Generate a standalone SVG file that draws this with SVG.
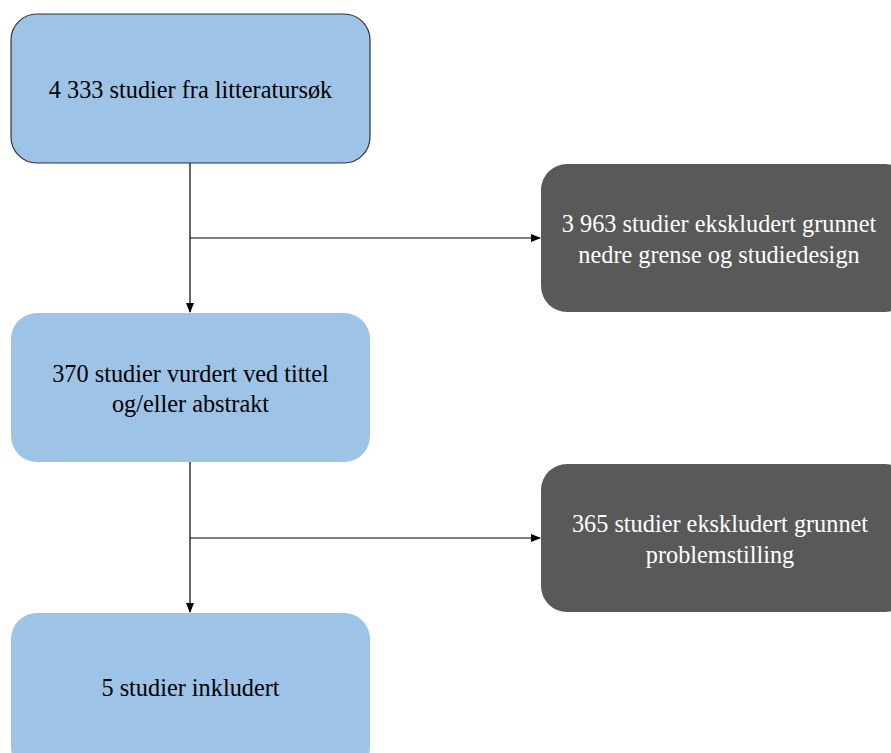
<svg xmlns="http://www.w3.org/2000/svg" width="891" height="753" viewBox="0 0 891 753">
<style>
.blue{fill:#9dc3e6;}
.dark{fill:#595959;}
.t{font-family:"Liberation Serif","Times New Roman",serif;font-size:24.3px;text-anchor:middle;}
.tb{fill:#000;}
.tw{fill:#fff;}
.c{stroke:#000;stroke-width:1.2;fill:none;}
</style>
<defs>
<marker id="ah" markerWidth="10" markerHeight="10" refX="9" refY="5" orient="auto" markerUnits="userSpaceOnUse">
<path d="M0,1 L10,5 L0,9 Z" fill="#000"/>
</marker>
</defs>
<rect width="891" height="753" fill="#fff"/>
<g id="n1">
<rect x="11" y="14" width="359" height="149" rx="26" class="blue" stroke="#333" stroke-width="1.2"/>
<text x="190.5" y="98" class="t tb">4 333 studier fra litteratursøk</text>
</g>
<g id="n2">
<rect x="541" y="164" width="370" height="148" rx="26" class="dark"/>
<text x="719" y="232" class="t tw">3 963 studier ekskludert grunnet</text>
<text x="719" y="263" class="t tw">nedre grense og studiedesign</text>
</g>
<g id="n3">
<rect x="11" y="313" width="359" height="149" rx="26" class="blue"/>
<text x="190.5" y="381.5" class="t tb">370 studier vurdert ved tittel</text>
<text x="190.5" y="412" class="t tb">og/eller abstrakt</text>
</g>
<g id="n4">
<rect x="541" y="464" width="370" height="148" rx="26" class="dark"/>
<text x="720" y="531.5" class="t tw">365 studier ekskludert grunnet</text>
<text x="720" y="562.5" class="t tw">problemstilling</text>
</g>
<g id="n5">
<rect x="11" y="613" width="359" height="160" rx="26" class="blue"/>
<text x="190.5" y="696" class="t tb">5 studier inkludert</text>
</g>
<g id="connectors">
<path d="M190,163 V312" class="c" marker-end="url(#ah)"/>
<path d="M190,238 H540" class="c" marker-end="url(#ah)"/>
<path d="M190,462 V612" class="c" marker-end="url(#ah)"/>
<path d="M190,538 H540" class="c" marker-end="url(#ah)"/>
</g>
</svg>
